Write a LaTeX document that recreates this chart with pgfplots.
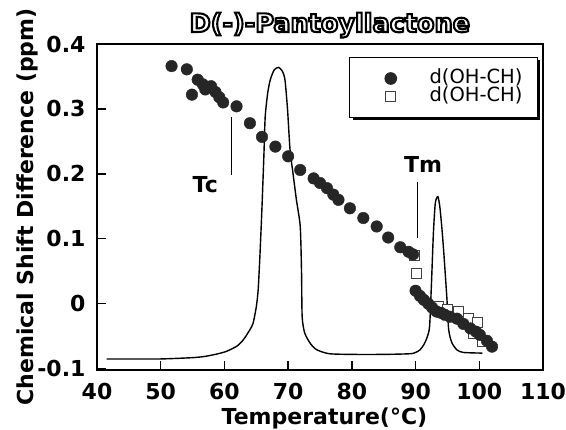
\documentclass[border=0pt]{standalone}
\usepackage{fontspec}
\setmainfont{DejaVu Sans}
\usepackage{pgfplots}
\pgfplotsset{compat=1.18}
\usetikzlibrary{shadows}
\newcommand\outlinetext[1]{\special{pdf:literal direct 1 Tr 2.1 w}#1\special{pdf:literal direct 0 Tr}}
\pgfplotsset{mylegimg/.style={legend image code/.code={\node[draw=none, fill=none, inner sep=0pt, outer sep=0pt, minimum size=0pt, text height=0pt, text depth=0pt] at (0pt,0pt) {}; \draw[##1] plot coordinates {(26pt,0pt)};}},
  sqstyle/.style={only marks, mark=square*, mark size=5pt, mark options={fill=white, draw=black!75, line width=0.8pt}}}
\begin{document}
\begin{tikzpicture}
\begin{axis}[
  at={(0,0)}, anchor=south west,
  scale only axis, width=446pt, height=326pt,
  xmin=40, xmax=110, ymin=-0.102, ymax=0.4,
  xtick={40,50,60,70,80,90,100,110},
  xticklabels={40,50,60,70,80,90,100,110},
  ytick={-0.1,0,0.1,0.2,0.3,0.4},
  yticklabels={{-0.1},{0},{0.1},{0.2},{0.3},{0.4}},
  tick align=inside, xtick pos=lower, ytick pos=left,
  major tick length=9pt,
  axis line style={line width=1.3pt},
  every tick/.style={line width=1.3pt,black},
  tick label style={font=\bfseries\fontsize{22}{24}\selectfont},
  xticklabel style={anchor=base, yshift=-30pt},
  yticklabel style={xshift=-8pt},
  xlabel={Temperature(°C)},
  ylabel={Chemical Shift Difference (ppm)},
  label style={font=\bfseries\fontsize{22}{24}\selectfont},
  xlabel style={at={(axis description cs:0.51,0)}, anchor=base, yshift=-55pt},
  ylabel style={at={(axis description cs:-0.1435,0.5)}, anchor=base},
  title={\outlinetext{D(-)-Pantoyllactone}},
  title style={at={(axis description cs:0.522,1)}, anchor=base, yshift=6pt, font=\bfseries\fontsize{25.5}{27}\selectfont},
  legend style={at={(rel axis cs:1,1)}, anchor=north east, xshift=-5pt, yshift=-13pt,
    draw=black, line width=1pt, fill=white,
    drop shadow={shadow xshift=3pt, shadow yshift=-3pt, fill=black, opacity=1},
    font=\fontsize{19.5}{20}\selectfont,
    inner xsep=15pt, inner ysep=12pt,
    nodes={inner sep=0pt, text height=14pt, text depth=4pt},
    /tikz/every odd column/.append style={column sep=33pt}},
  legend cell align=left,
  clip=false,
]
% DSC trace
\addplot[black, line width=1.4pt, smooth, tension=0.4, forget plot] coordinates {
(41.5,-0.085) (45,-0.085) (50,-0.085) (55,-0.083) (57,-0.081) (59,-0.077)
(60.4,-0.073) (62,-0.065) (63,-0.055) (64,-0.040) (64.5,-0.030) (65.0,-0.005)
(65.3,0.022) (65.6,0.08) (65.9,0.15) (66.2,0.23) (66.4,0.288) (66.8,0.325)
(67.2,0.345) (67.8,0.360) (68.5,0.364) (69.1,0.358) (69.5,0.345) (69.9,0.30)
(70.3,0.237) (70.8,0.198) (71.3,0.16) (71.9,0.119) (72.1,0.05) (72.2,-0.02)
(72.6,-0.045) (73.4,-0.060) (74.2,-0.069) (75.0,-0.073) (76.5,-0.077)
(79.7,-0.078) (85,-0.078) (89.1,-0.077) (90.0,-0.075) (90.7,-0.071)
(91.3,-0.063) (91.8,-0.052) (92.2,-0.035) (92.5,0.032) (92.8,0.109)
(93.1,0.155) (93.5,0.165) (93.8,0.150) (94.1,0.12) (94.4,0.083) (94.9,0.011)
(95.2,-0.040) (95.7,-0.060) (96.5,-0.071) (97.5,-0.075) (100.5,-0.076)
};
% open squares (drawn beneath the circles)
\addplot[sqstyle, forget plot]
coordinates {
(89.8,0.074) (90.2,0.046) (93.6,-0.004) (95.0,-0.008) (96.7,-0.012) (98.3,-0.022)
(99.1,-0.046) (99.7,-0.029) (100.5,-0.058)
};
% filled circles
\addplot[only marks, mark=*, mark size=5.8pt, mark options={fill=black!85, draw=black!85}, mylegimg]
coordinates {
(51.7,0.366) (54.1,0.361) (54.9,0.322) (55.8,0.345) (56.6,0.338) (57.0,0.330)
(57.9,0.335) (58.6,0.326) (59.2,0.318) (59.8,0.310) (61.9,0.304) (64.0,0.278)
(65.9,0.257) (68.0,0.242) (70.0,0.227) (71.9,0.206) (74.0,0.193) (75.0,0.186)
(76.1,0.178) (77.1,0.168) (77.9,0.160) (79.7,0.147) (81.8,0.132) (83.9,0.119)
(85.7,0.102) (87.6,0.087) (88.9,0.080) (89.6,0.076) (90.0,0.020) (90.7,0.012)
(91.3,0.006) (92.0,0.000) (92.6,-0.006) (93.3,-0.012) (94.0,-0.014)
(94.6,-0.017) (95.4,-0.020) (96.5,-0.023) (97.5,-0.031) (98.6,-0.038)
(99.5,-0.043) (100.1,-0.048) (101.2,-0.057) (102.0,-0.066)
};
\addlegendentry{d(OH-CH)}
\addlegendimage{sqstyle, mylegimg}
\addlegendentry{d(OH-CH)}
% annotations
\draw[black, line width=1.3pt] (axis cs:61.1,0.288) -- (axis cs:61.1,0.198);
\node[font=\bfseries\fontsize{22}{24}\selectfont] at (axis cs:57.0,0.183) {Tc};
\draw[black, line width=1.3pt] (axis cs:90.3,0.188) -- (axis cs:90.3,0.101);
\node[font=\bfseries\fontsize{22}{24}\selectfont] at (axis cs:91.2,0.214) {Tm};
\end{axis}
\pgfresetboundingbox
\useasboundingbox (-97pt,-60pt) rectangle (469pt,370pt);
\end{tikzpicture}
\end{document}
